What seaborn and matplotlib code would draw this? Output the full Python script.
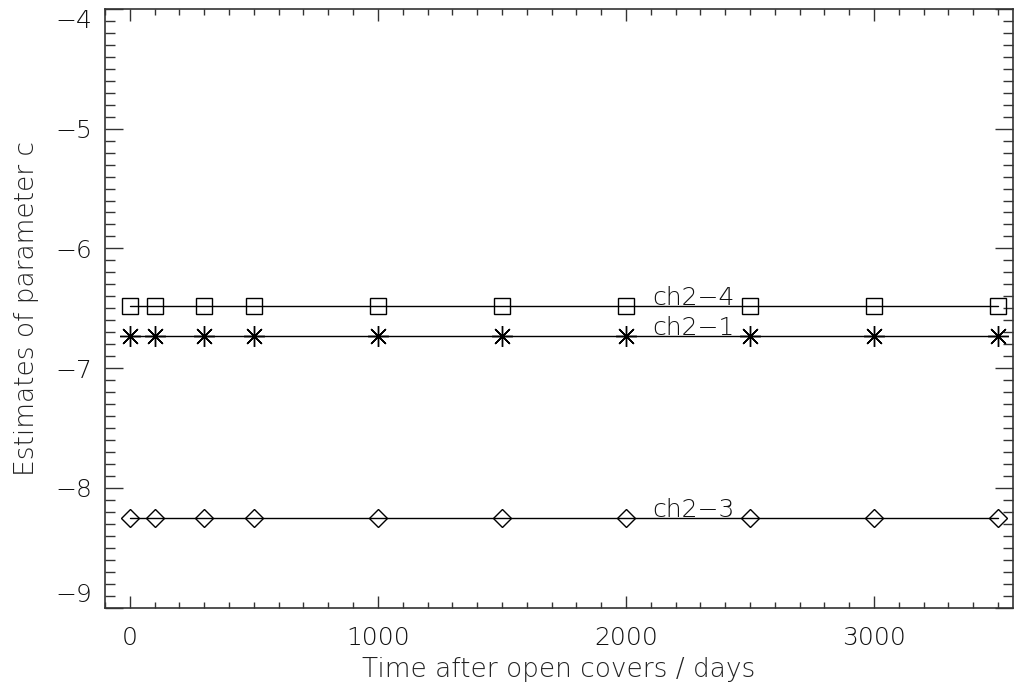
import numpy as np
import pandas as pd
import matplotlib
matplotlib.use("Agg")
import matplotlib.pyplot as plt
from matplotlib.ticker import MultipleLocator
import seaborn as sns

# Observation times (days after the covers were opened)
days = [0, 100, 300, 500, 1000, 1500, 2000, 2500, 3000, 3500]

# Fitted parameter c per channel (constant over time)
c_ch2_4 = [-6.48] * len(days)
c_ch2_1 = [-6.73] * len(days)
c_ch2_3 = [-8.25] * len(days)

channels = ["ch2\u22124", "ch2\u22121", "ch2\u22123"]
series = [c_ch2_4, c_ch2_1, c_ch2_3]
markers = ["s", (8, 2, 0), "D"]
marker_sizes = [12, 15, 9.5]
label_x = 2105

df = pd.concat(
    [pd.DataFrame({"days": days, "c": vals, "channel": name})
     for name, vals in zip(channels, series)],
    ignore_index=True,
)

sns.set_theme(style="white")
plt.rcParams["font.family"] = ["DejaVu Sans"]
plt.rcParams["font.weight"] = "light"
plt.rcParams["axes.labelweight"] = "light"
plt.rcParams["axes.unicode_minus"] = True

fig = plt.figure(figsize=(10.14, 6.93), dpi=100)
ax = fig.add_axes([105 / 1014, 1 - 607.5 / 693, 908 / 1014, 598.5 / 693])

for name, mk, ms in zip(channels, markers, marker_sizes):
    sub = df[df["channel"] == name]
    sns.lineplot(data=sub, x="days", y="c", ax=ax, color="black",
                 linewidth=1.0, marker=mk, markersize=ms,
                 markerfacecolor="none", markeredgecolor="black",
                 markeredgewidth=1.0, legend=False)
    ax.text(label_x, sub["c"].iloc[0] + 0.01, name, fontsize=18,
            ha="left", va="baseline", color="#111111")

ax.set_xlim(-100, 3560)
ax.set_ylim(-9, -4)
ax.xaxis.set_major_locator(MultipleLocator(1000))
ax.xaxis.set_minor_locator(MultipleLocator(100))
ax.yaxis.set_major_locator(MultipleLocator(1))
ax.yaxis.set_minor_locator(MultipleLocator(0.1))

ax.tick_params(axis="x", which="major", direction="in", length=8.6,
               width=1.0, top=True, bottom=True, labelsize=18,
               pad=13, colors="#333333", labelcolor="#111111")
ax.tick_params(axis="x", which="minor", direction="in", length=4.3,
               width=1.0, top=True, bottom=True, colors="#333333")
ax.tick_params(axis="y", which="major", direction="in", length=13,
               width=1.0, left=True, right=True, labelsize=18,
               pad=9, colors="#333333", labelcolor="#111111")
ax.tick_params(axis="y", which="minor", direction="in", length=7.2,
               width=1.0, left=True, right=True, colors="#333333")

for sp in ax.spines.values():
    sp.set_color("#333333")
    sp.set_linewidth(1.2)

ax.set_xlabel("Time after open covers / days", fontsize=19,
              color="#222222", labelpad=5)
ax.set_ylabel("Estimates of parameter c", fontsize=19,
              color="#222222", labelpad=12)
ax.grid(False)

# keep the end labels of the y axis inside the frame
fig.canvas.draw()
lo, hi = ax.get_ylim()
for tick in ax.yaxis.get_major_ticks():
    loc = tick.get_loc()
    if np.isclose(loc, lo):
        tick.label1.set_verticalalignment("bottom")
    elif np.isclose(loc, hi):
        tick.label1.set_verticalalignment("top")

fig.savefig("out.png", dpi=100)
